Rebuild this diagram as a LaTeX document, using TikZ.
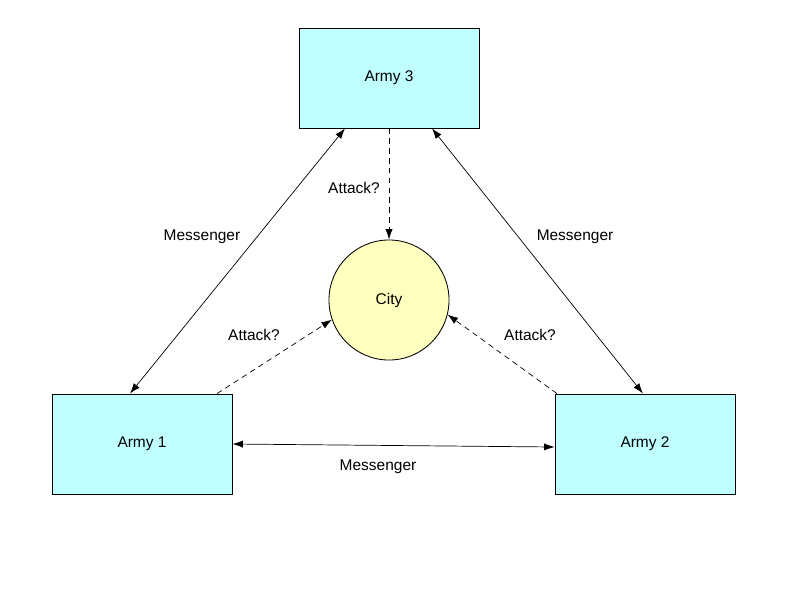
\documentclass[tikz,border=0pt]{standalone}
\usepackage{fontspec}
\setmainfont{Liberation Sans}
\usetikzlibrary{arrows.meta}

\definecolor{armyfill}{HTML}{C0FFFF}
\definecolor{cityfill}{HTML}{FFFFC0}

\tikzset{
  army/.style={rectangle, draw, fill=armyfill, line width=0.6pt,
    minimum width=4.5cm, minimum height=2.5cm},
  city/.style={circle, draw, fill=cityfill, line width=0.6pt,
    minimum size=3cm},
  messenger/.style={{Latex[length=2.6mm,width=1.8mm]}-{Latex[length=2.6mm,width=1.8mm]}, line width=0.5pt},
  attack/.style={-{Latex[length=2.6mm,width=1.8mm]}, dash pattern=on 4pt off 3pt, line width=0.5pt},
  lbl/.style={font=\fontsize{11}{13}\selectfont}
}

\begin{document}
\begin{tikzpicture}[x=0.025cm, y=-0.025cm, every node/.style={font=\fontsize{11}{13}\selectfont}]
  \useasboundingbox (0,0) rectangle (800,600);

  % armies and city
  \node[army] (army3) at (389,78) {Army 3};
  \node[army] (army1) at (142,444) {Army 1};
  \node[army] (army2) at (645,444) {Army 2};
  \node[city] (city) at (389,300) {City};

  % messengers
  \draw[messenger] ([xshift=-1.1cm]army3.south) -- ([xshift=-0.3cm]army1.north);
  \draw[messenger] ([xshift=1.075cm]army3.south) -- ([xshift=-0.05cm]army2.north);
  \draw[messenger] (army1.east) -- ([yshift=-0.075cm]army2.west);

  % attack?
  \draw[attack] (army3.south) -- (city.north);
  \draw[attack] ([xshift=1.875cm]army1.north) -- (city.199);
  \draw[attack] ([xshift=-2.2cm]army2.north) -- (city.-14);

  % labels
  \node[lbl] (msg31) at (202,237) {Messenger};
  \node[lbl] (msg32) at (575,237) {Messenger};
  \node[lbl] (msg12) at (378,467) {Messenger};
  \node[lbl] (atk3) at (354,188) {Attack?};
  \node[lbl] (atk1) at (254,335) {Attack?};
  \node[lbl] (atk2) at (530,335) {Attack?};
\end{tikzpicture}
\end{document}
